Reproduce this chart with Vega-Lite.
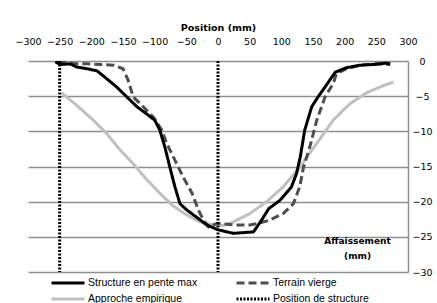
{
  "$schema": "https://vega.github.io/schema/vega-lite/v6.json",
  "width": 380,
  "height": 211,
  "autosize": {"type": "none"},
  "padding": {"left": 28, "top": 61, "right": 29, "bottom": 31},
  "background": "white",
  "config": {
    "view": {"stroke": null},
    "font": "Liberation Sans"
  },
  "data": {
    "values": [
      {"s": "Approche empirique", "g": "a", "x": -247, "y": -4.55},
      {"s": "Approche empirique", "g": "a", "x": -223, "y": -6.3},
      {"s": "Approche empirique", "g": "a", "x": -197, "y": -8.4},
      {"s": "Approche empirique", "g": "a", "x": -176, "y": -10.3},
      {"s": "Approche empirique", "g": "a", "x": -155, "y": -12.6},
      {"s": "Approche empirique", "g": "a", "x": -134, "y": -14.6},
      {"s": "Approche empirique", "g": "a", "x": -113, "y": -16.8},
      {"s": "Approche empirique", "g": "a", "x": -92, "y": -18.8},
      {"s": "Approche empirique", "g": "a", "x": -71, "y": -20.6},
      {"s": "Approche empirique", "g": "a", "x": -49, "y": -21.9},
      {"s": "Approche empirique", "g": "a", "x": -28, "y": -22.9},
      {"s": "Approche empirique", "g": "a", "x": -7, "y": -23.3},
      {"s": "Approche empirique", "g": "a", "x": 8, "y": -23.4},
      {"s": "Approche empirique", "g": "a", "x": 24, "y": -22.9},
      {"s": "Approche empirique", "g": "a", "x": 50, "y": -21.7},
      {"s": "Approche empirique", "g": "a", "x": 77, "y": -20.0},
      {"s": "Approche empirique", "g": "a", "x": 103, "y": -17.9},
      {"s": "Approche empirique", "g": "a", "x": 129, "y": -15.1},
      {"s": "Approche empirique", "g": "a", "x": 156, "y": -11.7},
      {"s": "Approche empirique", "g": "a", "x": 182, "y": -8.4},
      {"s": "Approche empirique", "g": "a", "x": 208, "y": -6.1},
      {"s": "Approche empirique", "g": "a", "x": 235, "y": -4.5},
      {"s": "Approche empirique", "g": "a", "x": 261, "y": -3.5},
      {"s": "Approche empirique", "g": "a", "x": 277, "y": -3.0},

      {"s": "Terrain vierge", "g": "t", "x": -252, "y": -0.15},
      {"s": "Terrain vierge", "g": "t", "x": -223, "y": -0.4},
      {"s": "Terrain vierge", "g": "t", "x": -207, "y": -0.4},
      {"s": "Terrain vierge", "g": "t", "x": -186, "y": -0.5},
      {"s": "Terrain vierge", "g": "t", "x": -165, "y": -0.6},
      {"s": "Terrain vierge", "g": "t", "x": -150, "y": -1.1},
      {"s": "Terrain vierge", "g": "t", "x": -142, "y": -2.7},
      {"s": "Terrain vierge", "g": "t", "x": -134, "y": -5.1},
      {"s": "Terrain vierge", "g": "t", "x": -118, "y": -6.5},
      {"s": "Terrain vierge", "g": "t", "x": -102, "y": -8.0},
      {"s": "Terrain vierge", "g": "t", "x": -89, "y": -9.8},
      {"s": "Terrain vierge", "g": "t", "x": -81, "y": -11.7},
      {"s": "Terrain vierge", "g": "t", "x": -68, "y": -14.1},
      {"s": "Terrain vierge", "g": "t", "x": -55, "y": -16.5},
      {"s": "Terrain vierge", "g": "t", "x": -41, "y": -18.8},
      {"s": "Terrain vierge", "g": "t", "x": -31, "y": -21.2},
      {"s": "Terrain vierge", "g": "t", "x": -23, "y": -22.6},
      {"s": "Terrain vierge", "g": "t", "x": -15, "y": -23.6},
      {"s": "Terrain vierge", "g": "t", "x": -2, "y": -23.1},
      {"s": "Terrain vierge", "g": "t", "x": 3, "y": -23.1},
      {"s": "Terrain vierge", "g": "t", "x": 24, "y": -23.3},
      {"s": "Terrain vierge", "g": "t", "x": 50, "y": -23.3},
      {"s": "Terrain vierge", "g": "t", "x": 64, "y": -23.1},
      {"s": "Terrain vierge", "g": "t", "x": 82, "y": -22.6},
      {"s": "Terrain vierge", "g": "t", "x": 103, "y": -21.7},
      {"s": "Terrain vierge", "g": "t", "x": 119, "y": -20.3},
      {"s": "Terrain vierge", "g": "t", "x": 129, "y": -17.9},
      {"s": "Terrain vierge", "g": "t", "x": 135, "y": -15.1},
      {"s": "Terrain vierge", "g": "t", "x": 145, "y": -12.2},
      {"s": "Terrain vierge", "g": "t", "x": 156, "y": -8.4},
      {"s": "Terrain vierge", "g": "t", "x": 169, "y": -5.1},
      {"s": "Terrain vierge", "g": "t", "x": 182, "y": -3.2},
      {"s": "Terrain vierge", "g": "t", "x": 187, "y": -1.8},
      {"s": "Terrain vierge", "g": "t", "x": 203, "y": -1.1},
      {"s": "Terrain vierge", "g": "t", "x": 224, "y": -0.6},
      {"s": "Terrain vierge", "g": "t", "x": 251, "y": -0.4},
      {"s": "Terrain vierge", "g": "t", "x": 272, "y": -0.5},

      {"s": "Structure en pente max", "g": "s", "x": -257, "y": -0.1},
      {"s": "Structure en pente max", "g": "s", "x": -249, "y": -0.5},
      {"s": "Structure en pente max", "g": "s", "x": -234, "y": -0.4},
      {"s": "Structure en pente max", "g": "s", "x": -223, "y": -0.85},
      {"s": "Structure en pente max", "g": "s", "x": -207, "y": -1.1},
      {"s": "Structure en pente max", "g": "s", "x": -191, "y": -1.4},
      {"s": "Structure en pente max", "g": "s", "x": -176, "y": -2.5},
      {"s": "Structure en pente max", "g": "s", "x": -160, "y": -3.7},
      {"s": "Structure en pente max", "g": "s", "x": -144, "y": -5.1},
      {"s": "Structure en pente max", "g": "s", "x": -128, "y": -6.5},
      {"s": "Structure en pente max", "g": "s", "x": -113, "y": -7.5},
      {"s": "Structure en pente max", "g": "s", "x": -100, "y": -8.4},
      {"s": "Structure en pente max", "g": "s", "x": -92, "y": -9.8},
      {"s": "Structure en pente max", "g": "s", "x": -84, "y": -12.2},
      {"s": "Structure en pente max", "g": "s", "x": -76, "y": -15.1},
      {"s": "Structure en pente max", "g": "s", "x": -68, "y": -17.9},
      {"s": "Structure en pente max", "g": "s", "x": -60, "y": -20.3},
      {"s": "Structure en pente max", "g": "s", "x": -49, "y": -21.2},
      {"s": "Structure en pente max", "g": "s", "x": -34, "y": -22.2},
      {"s": "Structure en pente max", "g": "s", "x": -18, "y": -23.3},
      {"s": "Structure en pente max", "g": "s", "x": 0, "y": -24.0},
      {"s": "Structure en pente max", "g": "s", "x": 24, "y": -24.5},
      {"s": "Structure en pente max", "g": "s", "x": 56, "y": -24.3},
      {"s": "Structure en pente max", "g": "s", "x": 69, "y": -22.6},
      {"s": "Structure en pente max", "g": "s", "x": 80, "y": -21.0},
      {"s": "Structure en pente max", "g": "s", "x": 98, "y": -19.8},
      {"s": "Structure en pente max", "g": "s", "x": 116, "y": -17.9},
      {"s": "Structure en pente max", "g": "s", "x": 124, "y": -16.0},
      {"s": "Structure en pente max", "g": "s", "x": 130, "y": -13.6},
      {"s": "Structure en pente max", "g": "s", "x": 137, "y": -9.8},
      {"s": "Structure en pente max", "g": "s", "x": 148, "y": -6.5},
      {"s": "Structure en pente max", "g": "s", "x": 158, "y": -5.1},
      {"s": "Structure en pente max", "g": "s", "x": 169, "y": -3.7},
      {"s": "Structure en pente max", "g": "s", "x": 185, "y": -1.6},
      {"s": "Structure en pente max", "g": "s", "x": 203, "y": -0.95},
      {"s": "Structure en pente max", "g": "s", "x": 224, "y": -0.6},
      {"s": "Structure en pente max", "g": "s", "x": 245, "y": -0.5},
      {"s": "Structure en pente max", "g": "s", "x": 266, "y": -0.3},
      {"s": "Structure en pente max", "g": "s", "x": 272, "y": -0.4},

      {"s": "Position de structure", "g": "p1", "x": -250, "y": 0},
      {"s": "Position de structure", "g": "p1", "x": -250, "y": -30},
      {"s": "Position de structure", "g": "p2", "x": 0, "y": 0},
      {"s": "Position de structure", "g": "p2", "x": 0, "y": -30}
    ]
  },
  "mark": {"type": "line", "strokeWidth": 3, "clip": true},
  "encoding": {
    "x": {
      "field": "x", "type": "quantitative",
      "scale": {"domain": [-300, 300], "nice": false, "zero": false},
      "axis": {
        "orient": "top",
        "title": "Position (mm)",
        "titleFont": "DejaVu Sans", "titleFontSize": 9.5, "titleFontWeight": "bold", "titleColor": "#000",
        "titlePadding": 4,
        "values": [-300, -250, -200, -150, -100, -50, 0, 50, 100, 150, 200, 250, 300],
        "labelFont": "DejaVu Sans", "labelFontSize": 9.5, "labelColor": "#000",
        "labelPadding": 15, "ticks": false, "domain": false, "grid": false,
        "labelOverlap": false, "labelFlush": false
      }
    },
    "y": {
      "field": "y", "type": "quantitative",
      "scale": {"domain": [-30, 0], "nice": false},
      "axis": {
        "orient": "right",
        "values": [0, -5, -10, -15, -20, -25, -30],
        "title": ["Affaissement", "(mm)"],
        "titleAngle": 0, "titleX": -51, "titleY": 179,
        "titleAlign": "center", "titleBaseline": "middle",
        "titleFont": "DejaVu Sans", "titleFontSize": 9, "titleFontWeight": "bold", "titleColor": "#000",
        "titleLineHeight": 15,
        "labelFont": "DejaVu Sans", "labelFontSize": 9.5, "labelColor": "#000",
        "labelAlign": "center", "labelPadding": 14,
        "ticks": false,
        "domain": true, "domainColor": "#8f8f8f", "domainWidth": 1.5,
        "grid": true, "gridColor": "#8f8f8f", "gridWidth": 1.5
      }
    },
    "detail": {"field": "g"},
    "color": {
      "field": "s", "type": "nominal",
      "scale": {
        "domain": ["Structure en pente max", "Terrain vierge", "Approche empirique", "Position de structure"],
        "range": ["#000000", "#4d4d4d", "#c0c0c0", "#000000"]
      },
      "legend": {
        "orient": "none", "legendX": 33, "legendY": 215, "direction": "horizontal",
        "title": null, "columns": 2, "columnPadding": 32, "rowPadding": 3,
        "symbolType": "M-3,0H3", "symbolSize": 121, "symbolStrokeWidth": 3,
        "labelFont": "Liberation Sans", "labelFontSize": 10.5, "labelColor": "#000",
        "labelOffset": 13, "labelLimit": 200
      }
    },
    "strokeDash": {
      "field": "s", "type": "nominal",
      "scale": {
        "domain": ["Structure en pente max", "Terrain vierge", "Approche empirique", "Position de structure"],
        "range": [[1, 0], [8, 4], [1, 0], [2, 1.5]]
      },
      "legend": {
        "orient": "none", "legendX": 33, "legendY": 215, "direction": "horizontal",
        "title": null, "columns": 2, "columnPadding": 32, "rowPadding": 3,
        "symbolType": "M-3,0H3", "symbolSize": 121, "symbolStrokeWidth": 3,
        "labelFont": "Liberation Sans", "labelFontSize": 10.5, "labelColor": "#000",
        "labelOffset": 13, "labelLimit": 200
      }
    }
  }
}
